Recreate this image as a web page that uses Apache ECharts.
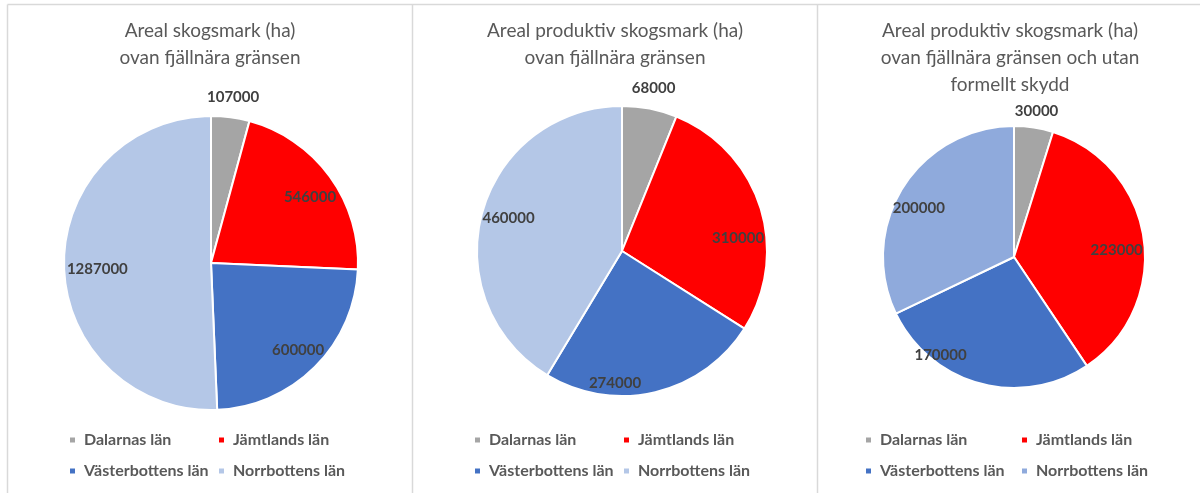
<!DOCTYPE html>
<html><head><meta charset="utf-8">
<script src="https://cdn.jsdelivr.net/npm/echarts@6/dist/echarts.min.js"></script>
<style>html,body{margin:0;padding:0;background:#fff}#c{width:1200px;height:493px}</style>
</head><body><div id="c"></div>
<script>
// ---- data ----
const categories = ['Dalarnas län', 'Jämtlands län', 'Västerbottens län', 'Norrbottens län'];
const skogsmark = [107000, 546000, 600000, 1287000];
const produktivSkogsmark = [68000, 310000, 274000, 460000];
const produktivUtanSkydd = [30000, 223000, 170000, 200000];
const title1 = ['Areal skogsmark (ha)', 'ovan fjällnära gränsen'];
const title2 = ['Areal produktiv skogsmark (ha)', 'ovan fjällnära gränsen'];
const title3 = ['Areal produktiv skogsmark (ha)', 'ovan fjällnära gränsen och utan', 'formellt skydd'];
const colorsA = ['#A5A5A5', '#FF0000', '#4472C4', '#B4C7E7'];
const colorsB = ['#A5A5A5', '#FF0000', '#4472C4', '#8FAADC'];

// ---- layout (label nudges mimic the spreadsheet's "best fit" placement) ----
const FONT = 'Lato, "Open Sans", sans-serif';
const panels = [
  { values: skogsmark, title: title1, colors: colorsA, cx: 211, cy: 263, r: 147, tx: 210, lx: [68, 217], inFrac: 0.78,
    nudge: [[0, 0], [4, 4], [4, 4], [4, 4]] },
  { values: produktivSkogsmark, title: title2, colors: colorsA, cx: 622, cy: 251, r: 145, tx: 615, lx: [473, 622], inFrac: 0.82,
    nudge: [[0, 0], [0, 24], [-35, 14], [4, 0]] },
  { values: produktivUtanSkydd, title: title3, colors: colorsB, cx: 1014, cy: 257, r: 131, tx: 1010, lx: [864, 1020], inFrac: 0.8,
    nudge: [[0, 2], [-4, 9], [-45, -6], [-4, 9]] }
];
const OUT_FRAC = 1.12;
const SMALL_SHARE = 0.07;
const labelStyle = { color: '#404040', fontSize: 15, fontWeight: 'bold', fontFamily: FONT };

const title = [], legend = [], series = [];
panels.forEach((p, k) => {
  title.push({
    text: p.title.join('\n'), left: p.tx, top: 17, textAlign: 'center', padding: 0,
    textStyle: { color: '#595959', fontSize: 19, fontWeight: 'normal', lineHeight: 27, fontFamily: FONT }
  });
  [[0, 2], [1, 3]].forEach((idx, c) => {
    legend.push({
      orient: 'vertical', left: p.lx[c], top: 431, padding: 0, itemGap: 13,
      itemWidth: 7, itemHeight: 7, icon: 'rect', selectedMode: false,
      textStyle: { color: '#595959', fontSize: 16, fontWeight: 'bold', lineHeight: 18, fontFamily: FONT, padding: [0, 0, 0, 3] },
      data: idx.map(i => ({ name: categories[i], itemStyle: { color: p.colors[i] } }))
    });
  });
  const total = p.values.reduce((a, b) => a + b, 0);
  // visible pie
  series.push({
    type: 'pie', center: [p.cx, p.cy], radius: [0, p.r], startAngle: 90, clockwise: true,
    avoidLabelOverlap: false, label: { show: false }, labelLine: { show: false },
    emphasis: { disabled: true }, animation: false,
    itemStyle: { borderColor: '#fff', borderWidth: 2 },
    data: p.values.map((v, i) => ({ name: categories[i], value: v, itemStyle: { color: p.colors[i] } }))
  });
  // transparent label carriers (inside labels and outside label for small slices)
  [[p.inFrac, v => v / total >= SMALL_SHARE], [OUT_FRAC, v => v / total < SMALL_SHARE]].forEach(([frac, test]) => {
    series.push({
      type: 'pie', center: [p.cx, p.cy], radius: [0, 2 * frac * p.r], startAngle: 90, clockwise: true,
      avoidLabelOverlap: false, silent: true, animation: false, z: 5,
      emphasis: { disabled: true },
      itemStyle: { color: 'rgba(0,0,0,0)', borderWidth: 0 },
      labelLine: { show: false },
      label: Object.assign({ position: 'inside', formatter: '{c}' }, labelStyle),
      data: p.values.map((v, i) => ({ name: categories[i], value: v, label: { show: test(v), offset: p.nudge[i] } }))
    });
  });
});

const chart = echarts.init(document.getElementById('c'), null, { renderer: 'canvas' });
chart.setOption({
  backgroundColor: '#fff',
  animation: false,
  title, legend, series,
  graphic: [
    { type: 'line', shape: { x1: 7.5, y1: 4.5, x2: 1200, y2: 4.5 }, style: { stroke: '#D9D9D9', lineWidth: 1.5 } },
    { type: 'line', shape: { x1: 7.5, y1: 4.5, x2: 7.5, y2: 493 }, style: { stroke: '#D9D9D9', lineWidth: 1.5 } },
    { type: 'line', shape: { x1: 412.5, y1: 4.5, x2: 412.5, y2: 493 }, style: { stroke: '#D9D9D9', lineWidth: 1.5 } },
    { type: 'line', shape: { x1: 817.5, y1: 4.5, x2: 817.5, y2: 493 }, style: { stroke: '#D9D9D9', lineWidth: 1.5 } }
  ]
});
</script></body></html>
